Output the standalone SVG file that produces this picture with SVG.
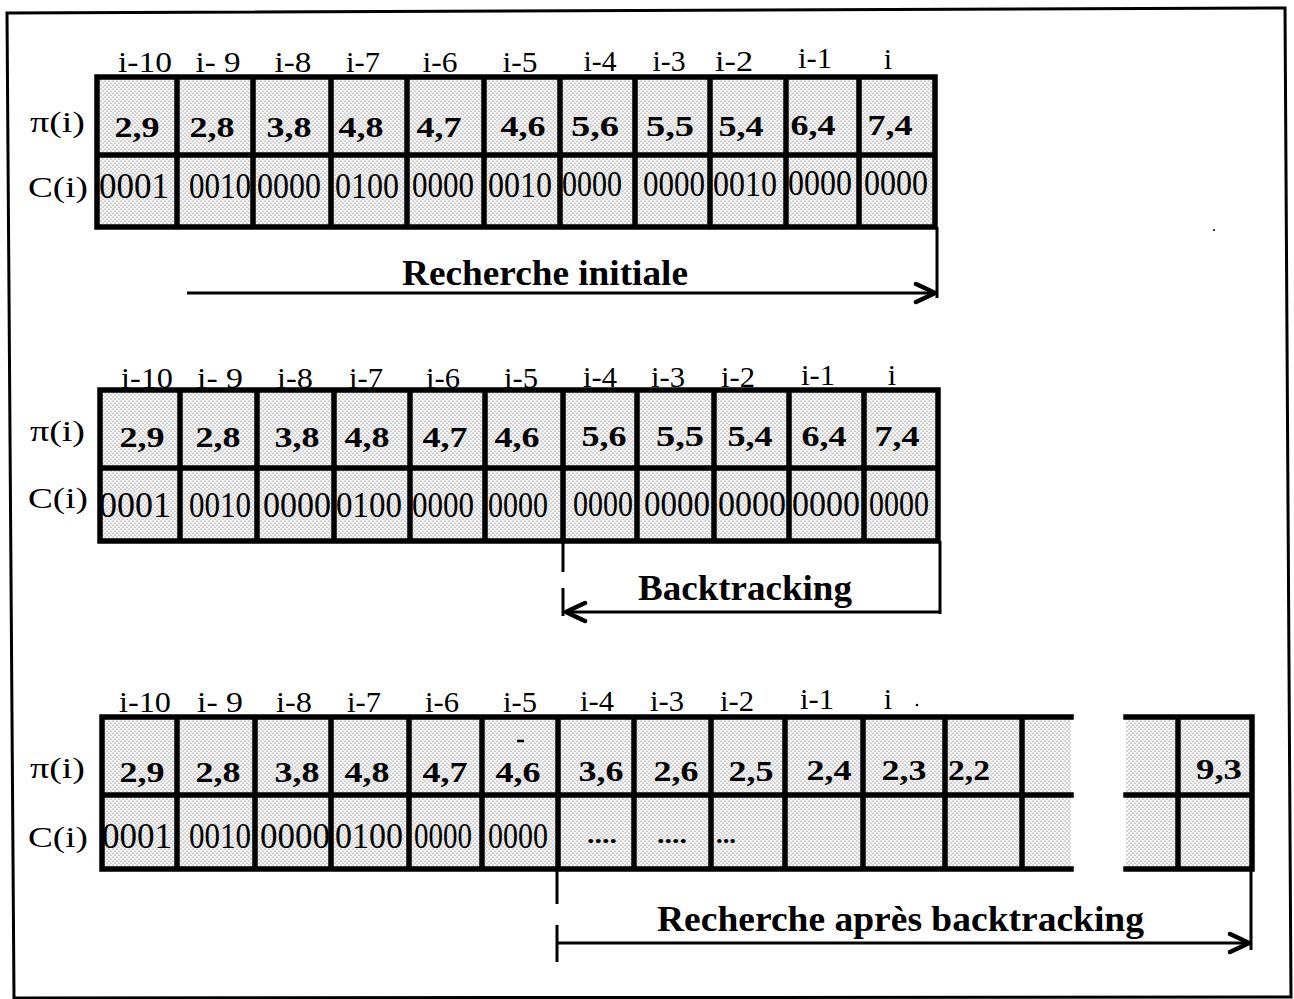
<svg xmlns="http://www.w3.org/2000/svg" width="1294" height="999" viewBox="0 0 1294 999">
<style>
.frame{fill:none;stroke:#000;stroke-width:3}
.cellfill{fill:url(#stip)}
.grid{stroke:#000;stroke-width:5.5;fill:none;stroke-linecap:square}
.hdr{font-family:"Liberation Serif","Times New Roman",serif;font-size:30px;fill:#000;text-anchor:middle}
.lbl{font-family:"Liberation Serif","Times New Roman",serif;font-size:30px;fill:#000}
.pv{font-family:"Liberation Serif","Times New Roman",serif;font-size:30px;fill:#000;text-anchor:middle;font-weight:bold}
.cv{font-family:"Liberation Serif","Times New Roman",serif;font-size:36px;fill:#000;text-anchor:middle}
.dots{font-family:"Liberation Serif","Times New Roman",serif;font-size:26px;fill:#000;text-anchor:middle;font-weight:bold}
.title{font-family:"Liberation Serif","Times New Roman",serif;font-size:36px;font-weight:bold;fill:#000}
.conn{stroke:#000;stroke-width:3;fill:none}
</style>
<defs>
<pattern id="stip" width="4" height="4" patternUnits="userSpaceOnUse">
<rect width="4" height="4" fill="#f2f2f2"/>
<circle cx="1" cy="1" r="0.6" fill="#808080"/>
<circle cx="3" cy="3" r="0.6" fill="#808080"/>
</pattern>
<marker id="arr" viewBox="-24 -13 27 26" refX="0" refY="0" markerWidth="27" markerHeight="26" markerUnits="userSpaceOnUse" orient="auto">
<path d="M-19,-9 Q-8,-4 0,0 Q-8,4 -19,9" fill="none" stroke="#000" stroke-width="4.5" stroke-linecap="round" stroke-linejoin="round"/>
</marker>
</defs>
<rect width="1294" height="999" fill="#fff"/>
<path class="frame" d="M7,13 L1285,8 L1291,997 L14,998 Z"/>

<!-- Table 1 -->
<g id="table1">
<rect class="cellfill" x="97" y="77" width="838" height="150"/>
<path class="grid" d="M97,77 H935 V227 H97 Z M97,155 H935 M177,77 V227 M253,77 V227 M331,77 V227 M407,77 V227 M484,77 V227 M560,77 V227 M635,77 V227 M710,77 V227 M786,77 V227 M859,77 V227"/>
<text class="hdr" x="145" y="72" textLength="54" lengthAdjust="spacingAndGlyphs">i-10</text>
<text class="hdr" x="218" y="72" textLength="45" lengthAdjust="spacingAndGlyphs">i- 9</text>
<text class="hdr" x="293" y="72" textLength="37" lengthAdjust="spacingAndGlyphs">i-8</text>
<text class="hdr" x="363" y="72" textLength="34" lengthAdjust="spacingAndGlyphs">i-7</text>
<text class="hdr" x="440" y="72" textLength="35" lengthAdjust="spacingAndGlyphs">i-6</text>
<text class="hdr" x="520" y="72" textLength="35" lengthAdjust="spacingAndGlyphs">i-5</text>
<text class="hdr" x="600" y="71" textLength="33" lengthAdjust="spacingAndGlyphs">i-4</text>
<text class="hdr" x="669" y="71" textLength="33" lengthAdjust="spacingAndGlyphs">i-3</text>
<text class="hdr" x="734" y="71" textLength="38" lengthAdjust="spacingAndGlyphs">i-2</text>
<text class="hdr" x="815" y="68" textLength="34" lengthAdjust="spacingAndGlyphs">i-1</text>
<text class="hdr" x="888" y="69">i</text>
<text class="lbl" x="30" y="132" textLength="55" lengthAdjust="spacingAndGlyphs">π(i)</text>
<text class="lbl" x="28" y="197" textLength="60" lengthAdjust="spacingAndGlyphs">C(i)</text>
<text class="pv" x="137" y="137" textLength="45" lengthAdjust="spacingAndGlyphs">2,9</text>
<text class="pv" x="212" y="137" textLength="45" lengthAdjust="spacingAndGlyphs">2,8</text>
<text class="pv" x="289" y="137" textLength="45" lengthAdjust="spacingAndGlyphs">3,8</text>
<text class="pv" x="361" y="137" textLength="45" lengthAdjust="spacingAndGlyphs">4,8</text>
<text class="pv" x="439" y="137" textLength="45" lengthAdjust="spacingAndGlyphs">4,7</text>
<text class="pv" x="523" y="136" textLength="45" lengthAdjust="spacingAndGlyphs">4,6</text>
<text class="pv" x="595" y="136" textLength="48" lengthAdjust="spacingAndGlyphs">5,6</text>
<text class="pv" x="670" y="136" textLength="48" lengthAdjust="spacingAndGlyphs">5,5</text>
<text class="pv" x="741" y="136" textLength="45" lengthAdjust="spacingAndGlyphs">5,4</text>
<text class="pv" x="813" y="135" textLength="45" lengthAdjust="spacingAndGlyphs">6,4</text>
<text class="pv" x="890" y="135" textLength="45" lengthAdjust="spacingAndGlyphs">7,4</text>
<text class="cv" x="134" y="198" textLength="70" lengthAdjust="spacingAndGlyphs">0001</text>
<text class="cv" x="220" y="198" textLength="62" lengthAdjust="spacingAndGlyphs">0010</text>
<text class="cv" x="289" y="198" textLength="64" lengthAdjust="spacingAndGlyphs">0000</text>
<text class="cv" x="367" y="198" textLength="64" lengthAdjust="spacingAndGlyphs">0100</text>
<text class="cv" x="443" y="197" textLength="62" lengthAdjust="spacingAndGlyphs">0000</text>
<text class="cv" x="520" y="197" textLength="64" lengthAdjust="spacingAndGlyphs">0010</text>
<text class="cv" x="592" y="196" textLength="60" lengthAdjust="spacingAndGlyphs">0000</text>
<text class="cv" x="674" y="196" textLength="62" lengthAdjust="spacingAndGlyphs">0000</text>
<text class="cv" x="745" y="196" textLength="64" lengthAdjust="spacingAndGlyphs">0010</text>
<text class="cv" x="820" y="195" textLength="64" lengthAdjust="spacingAndGlyphs">0000</text>
<text class="cv" x="896" y="195" textLength="64" lengthAdjust="spacingAndGlyphs">0000</text>
</g>

<!-- Table 2 -->
<g id="table2">
<rect class="cellfill" x="100" y="390" width="838" height="151"/>
<path class="grid" d="M100,390 H938 V541 H100 Z M100,468 H938 M180,390 V541 M257,390 V541 M334,390 V541 M410,390 V541 M485,390 V541 M563,390 V541 M637,390 V541 M714,390 V541 M789,390 V541 M864,390 V541"/>
<text class="hdr" x="147" y="388" textLength="52" lengthAdjust="spacingAndGlyphs">i-10</text>
<text class="hdr" x="220" y="388" textLength="46" lengthAdjust="spacingAndGlyphs">i- 9</text>
<text class="hdr" x="295" y="388" textLength="36" lengthAdjust="spacingAndGlyphs">i-8</text>
<text class="hdr" x="366" y="388" textLength="34" lengthAdjust="spacingAndGlyphs">i-7</text>
<text class="hdr" x="443" y="388" textLength="34" lengthAdjust="spacingAndGlyphs">i-6</text>
<text class="hdr" x="521" y="388" textLength="34" lengthAdjust="spacingAndGlyphs">i-5</text>
<text class="hdr" x="600" y="387" textLength="34" lengthAdjust="spacingAndGlyphs">i-4</text>
<text class="hdr" x="668" y="387" textLength="34" lengthAdjust="spacingAndGlyphs">i-3</text>
<text class="hdr" x="738" y="387" textLength="34" lengthAdjust="spacingAndGlyphs">i-2</text>
<text class="hdr" x="818" y="385" textLength="34" lengthAdjust="spacingAndGlyphs">i-1</text>
<text class="hdr" x="892" y="385">i</text>
<text class="lbl" x="30" y="441" textLength="55" lengthAdjust="spacingAndGlyphs">π(i)</text>
<text class="lbl" x="28" y="508" textLength="60" lengthAdjust="spacingAndGlyphs">C(i)</text>
<text class="pv" x="142" y="447" textLength="45" lengthAdjust="spacingAndGlyphs">2,9</text>
<text class="pv" x="218" y="447" textLength="45" lengthAdjust="spacingAndGlyphs">2,8</text>
<text class="pv" x="297" y="447" textLength="45" lengthAdjust="spacingAndGlyphs">3,8</text>
<text class="pv" x="367" y="447" textLength="45" lengthAdjust="spacingAndGlyphs">4,8</text>
<text class="pv" x="445" y="447" textLength="45" lengthAdjust="spacingAndGlyphs">4,7</text>
<text class="pv" x="517" y="447" textLength="45" lengthAdjust="spacingAndGlyphs">4,6</text>
<text class="pv" x="604" y="446" textLength="45" lengthAdjust="spacingAndGlyphs">5,6</text>
<text class="pv" x="680" y="446" textLength="48" lengthAdjust="spacingAndGlyphs">5,5</text>
<text class="pv" x="750" y="446" textLength="45" lengthAdjust="spacingAndGlyphs">5,4</text>
<text class="pv" x="824" y="446" textLength="45" lengthAdjust="spacingAndGlyphs">6,4</text>
<text class="pv" x="897" y="446" textLength="45" lengthAdjust="spacingAndGlyphs">7,4</text>
<text class="cv" x="135" y="517" textLength="72" lengthAdjust="spacingAndGlyphs">0001</text>
<text class="cv" x="220" y="517" textLength="62" lengthAdjust="spacingAndGlyphs">0010</text>
<text class="cv" x="297" y="517" textLength="68" lengthAdjust="spacingAndGlyphs">0000</text>
<text class="cv" x="369" y="517" textLength="66" lengthAdjust="spacingAndGlyphs">0100</text>
<text class="cv" x="443" y="517" textLength="62" lengthAdjust="spacingAndGlyphs">0000</text>
<text class="cv" x="518" y="517" textLength="60" lengthAdjust="spacingAndGlyphs">0000</text>
<text class="cv" x="603" y="516" textLength="60" lengthAdjust="spacingAndGlyphs">0000</text>
<text class="cv" x="677" y="516" textLength="66" lengthAdjust="spacingAndGlyphs">0000</text>
<text class="cv" x="752" y="516" textLength="68" lengthAdjust="spacingAndGlyphs">0000</text>
<text class="cv" x="826" y="516" textLength="68" lengthAdjust="spacingAndGlyphs">0000</text>
<text class="cv" x="899" y="516" textLength="60" lengthAdjust="spacingAndGlyphs">0000</text>
</g>

<!-- Table 3 -->
<g id="table3">
<rect class="cellfill" x="102" y="717" width="969" height="152"/>
<rect class="cellfill" x="1126" y="717" width="126" height="152"/>
<path class="grid" d="M102,717 H1071 M102,795 H1071 M102,869 H1071 M102,717 V869 M177,717 V869 M255,717 V869 M331,717 V869 M409,717 V869 M482,717 V869 M558,717 V869 M634,717 V869 M711,717 V869 M785,717 V869 M863,717 V869 M945,717 V869 M1022,717 V869"/>
<path class="grid" d="M1126,717 H1252 V869 H1126 M1126,795 H1252 M1178,717 V869"/>
<text class="hdr" x="145" y="712" textLength="52" lengthAdjust="spacingAndGlyphs">i-10</text>
<text class="hdr" x="220" y="712" textLength="46" lengthAdjust="spacingAndGlyphs">i- 9</text>
<text class="hdr" x="294" y="712" textLength="36" lengthAdjust="spacingAndGlyphs">i-8</text>
<text class="hdr" x="364" y="712" textLength="34" lengthAdjust="spacingAndGlyphs">i-7</text>
<text class="hdr" x="442" y="712" textLength="34" lengthAdjust="spacingAndGlyphs">i-6</text>
<text class="hdr" x="520" y="712" textLength="34" lengthAdjust="spacingAndGlyphs">i-5</text>
<text class="hdr" x="597" y="711" textLength="34" lengthAdjust="spacingAndGlyphs">i-4</text>
<text class="hdr" x="667" y="711" textLength="34" lengthAdjust="spacingAndGlyphs">i-3</text>
<text class="hdr" x="737" y="711" textLength="34" lengthAdjust="spacingAndGlyphs">i-2</text>
<text class="hdr" x="817" y="709" textLength="34" lengthAdjust="spacingAndGlyphs">i-1</text>
<text class="hdr" x="888" y="709">i</text>
<circle cx="917" cy="705" r="1.3" fill="#000"/>
<text class="lbl" x="30" y="778" textLength="55" lengthAdjust="spacingAndGlyphs">π(i)</text>
<text class="lbl" x="28" y="847" textLength="60" lengthAdjust="spacingAndGlyphs">C(i)</text>
<text class="pv" x="142" y="782" textLength="45" lengthAdjust="spacingAndGlyphs">2,9</text>
<text class="pv" x="218" y="782" textLength="45" lengthAdjust="spacingAndGlyphs">2,8</text>
<text class="pv" x="297" y="782" textLength="45" lengthAdjust="spacingAndGlyphs">3,8</text>
<text class="pv" x="367" y="782" textLength="45" lengthAdjust="spacingAndGlyphs">4,8</text>
<text class="pv" x="445" y="782" textLength="45" lengthAdjust="spacingAndGlyphs">4,7</text>
<text class="pv" x="518" y="782" textLength="45" lengthAdjust="spacingAndGlyphs">4,6</text>
<line x1="517" y1="741" x2="524" y2="741" stroke="#000" stroke-width="2.5"/>
<text class="pv" x="601" y="781" textLength="45" lengthAdjust="spacingAndGlyphs">3,6</text>
<text class="pv" x="676" y="781" textLength="45" lengthAdjust="spacingAndGlyphs">2,6</text>
<text class="pv" x="751" y="781" textLength="45" lengthAdjust="spacingAndGlyphs">2,5</text>
<text class="pv" x="829" y="780" textLength="45" lengthAdjust="spacingAndGlyphs">2,4</text>
<text class="pv" x="904" y="780" textLength="45" lengthAdjust="spacingAndGlyphs">2,3</text>
<text class="pv" x="969" y="780" textLength="42" lengthAdjust="spacingAndGlyphs">2,2</text>
<text class="pv" x="1219" y="779" textLength="46" lengthAdjust="spacingAndGlyphs">9,3</text>
<text class="cv" x="137" y="848" textLength="70" lengthAdjust="spacingAndGlyphs">0001</text>
<text class="cv" x="220" y="848" textLength="62" lengthAdjust="spacingAndGlyphs">0010</text>
<text class="cv" x="295" y="848" textLength="70" lengthAdjust="spacingAndGlyphs">0000</text>
<text class="cv" x="369" y="848" textLength="68" lengthAdjust="spacingAndGlyphs">0100</text>
<text class="cv" x="443" y="848" textLength="58" lengthAdjust="spacingAndGlyphs">0000</text>
<text class="cv" x="518" y="848" textLength="60" lengthAdjust="spacingAndGlyphs">0000</text>
<text class="dots" x="602" y="843" textLength="30" lengthAdjust="spacingAndGlyphs">....</text>
<text class="dots" x="672" y="843" textLength="30" lengthAdjust="spacingAndGlyphs">....</text>
<text class="dots" x="726" y="843" textLength="20" lengthAdjust="spacingAndGlyphs">...</text>
</g>

<!-- Connectors -->
<g id="connectors">
<line class="conn" x1="937" y1="227" x2="937" y2="298"/>
<line class="conn" x1="187" y1="293" x2="935" y2="293" marker-end="url(#arr)"/>
<line class="conn" x1="940" y1="541" x2="940" y2="614"/>
<line class="conn" x1="563" y1="541" x2="563" y2="572"/>
<line class="conn" x1="563" y1="588" x2="563" y2="616"/>
<line class="conn" x1="940" y1="612" x2="566" y2="612" marker-end="url(#arr)"/>
<line class="conn" x1="1251" y1="869" x2="1251" y2="950"/>
<line class="conn" x1="557" y1="869" x2="557" y2="904"/>
<line class="conn" x1="557" y1="925" x2="557" y2="962"/>
<line class="conn" x1="557" y1="943" x2="1249" y2="943" marker-end="url(#arr)"/>
</g>

<!-- Labels -->
<g id="labels">
<text class="title" x="402" y="285" textLength="286" lengthAdjust="spacingAndGlyphs">Recherche initiale</text>
<text class="title" x="638" y="600" textLength="214" lengthAdjust="spacingAndGlyphs">Backtracking</text>
<text class="title" x="657" y="931" textLength="487" lengthAdjust="spacingAndGlyphs">Recherche après backtracking</text>
</g>
<circle cx="1214" cy="230" r="1" fill="#000"/>
</svg>
